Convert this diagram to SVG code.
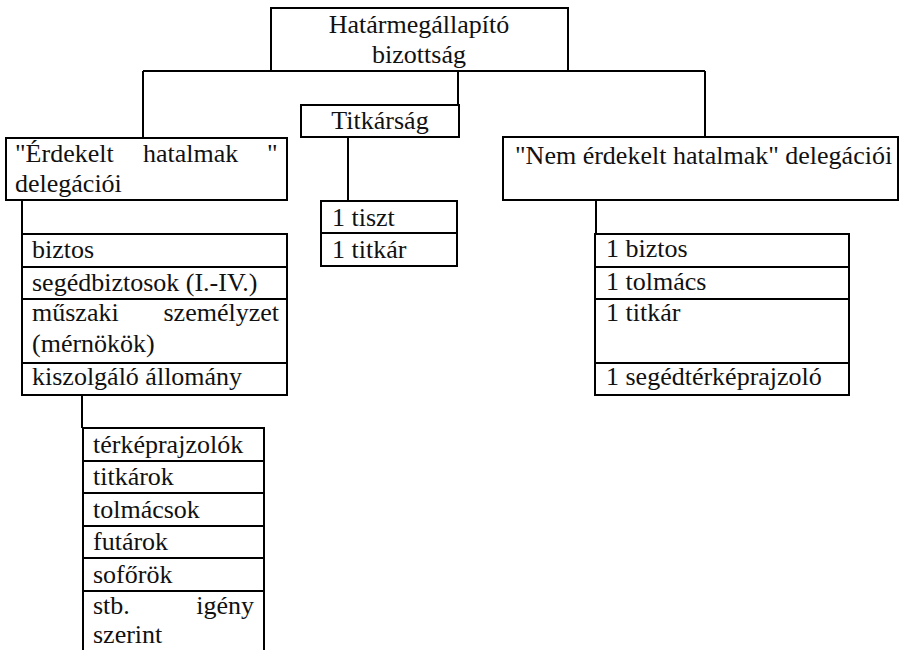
<svg xmlns="http://www.w3.org/2000/svg" width="900" height="650" viewBox="0 0 900 650">
<style>
.b{fill:#fff;stroke:#000;stroke-width:2}
.l{fill:none;stroke:#000;stroke-width:2}
text{font-family:"Liberation Serif","Times New Roman",Times,"DejaVu Serif",serif;font-size:26px;fill:#111}
.c{text-anchor:middle}
.e{text-anchor:end}
</style>
<rect width="900" height="650" fill="#fff"/>
<g id="connectors" class="l">
<path d="M143 71H705"/>
<path d="M143 71V138"/>
<path d="M705 71V137"/>
<path d="M458 71V105"/>
<path d="M348 137V201"/>
<path d="M22 200V234"/>
<path d="M82 395V428"/>
<path d="M596 200V234"/>
</g>
<g id="hatarmegallapito">
<rect class="b" x="271" y="8" width="297" height="63"/>
<text class="c" x="419" y="33" font-family="Liberation Serif">Határmegállapító</text>
<text class="c" x="419" y="63" font-family="Liberation Serif">bizottság</text>
</g>
<g id="titkarsag">
<rect class="b" x="301" y="105" width="158" height="32"/>
<text class="c" x="380" y="129">Titkárság</text>
</g>
<g id="titkarsag-tagok">
<rect class="b" x="321" y="201" width="136" height="65"/>
<path class="l" d="M321 233H457"/>
<text x="332" y="226">1 tiszt</text>
<text x="332" y="258">1 titkár</text>
</g>
<g id="erdekelt">
<rect class="b" x="6" y="138" width="281" height="62"/>
<text x="15" y="162">"Érdekelt</text>
<text x="143" y="162">hatalmak</text>
<text x="267" y="162">"</text>
<text x="15" y="192">delegációi</text>
</g>
<g id="erdekelt-tagok">
<rect class="b" x="22" y="234" width="265" height="161"/>
<path class="l" d="M22 267H287M22 299H287M22 363H287"/>
<text x="32" y="258">biztos</text>
<text x="32" y="291">segédbiztosok (I.-IV.)</text>
<text x="32" y="321">műszaki</text>
<text class="e" x="279" y="321">személyzet</text>
<text x="32" y="352">(mérnökök)</text>
<text x="32" y="385">kiszolgáló állomány</text>
</g>
<g id="kiszolgalo-allomany">
<path class="l" d="M83 650V428H264V650"/>
<path class="l" d="M83 461H264M83 493H264M83 526H264M83 558H264M83 591H264"/>
<text x="93" y="453">térképrajzolók</text>
<text x="93" y="485">titkárok</text>
<text x="93" y="518">tolmácsok</text>
<text x="93" y="550">futárok</text>
<text x="93" y="583">sofőrök</text>
<text x="93" y="614">stb.</text>
<text class="e" x="254" y="614">igény</text>
<text x="93" y="643">szerint</text>
</g>
<g id="nem-erdekelt">
<rect class="b" x="503" y="137" width="395" height="63"/>
<text x="515" y="164">"Nem érdekelt hatalmak" delegációi</text>
</g>
<g id="nem-erdekelt-tagok">
<rect class="b" x="595" y="234" width="254" height="161"/>
<path class="l" d="M595 267H849M595 299H849M595 363H849"/>
<text x="606" y="257">1 biztos</text>
<text x="606" y="290">1 tolmács</text>
<text x="606" y="321">1 titkár</text>
<text x="606" y="385">1 segédtérképrajzoló</text>
</g>
</svg>
